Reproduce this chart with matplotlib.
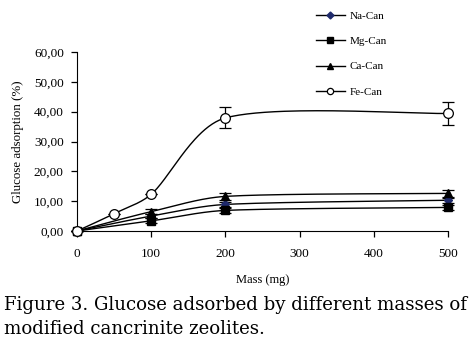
import numpy as np
import matplotlib
matplotlib.use('Agg')
import matplotlib.pyplot as plt
from matplotlib.lines import Line2D
from matplotlib.ticker import FuncFormatter

# data
mass_fe = [0, 50, 100, 200, 500]
fe_can = [0.0, 5.8, 12.3, 37.9, 39.4]
fe_err = [0, 0, 0, 3.5, 4.0]

mass = [0, 100, 200, 500]
na_can = [0.0, 5.0, 8.9, 10.3]
mg_can = [0.0, 3.4, 6.9, 7.9]
ca_can = [0.0, 6.5, 11.6, 12.6]
na_err = [0, 0.8, 0.8, 0.8]
mg_err = [0, 0.8, 0.8, 0.8]
ca_err = [0, 0.8, 1.2, 1.3]

PX_X = 371 / 500.0   # pixels per mg
PX_Y = 179 / 60.0    # pixels per %


def smooth(xs, ys, n=50):
    # excel-like smoothed line, worked out in screen units
    p = np.column_stack([np.array(xs) * PX_X, np.array(ys) * PX_Y]).astype(float)
    p = np.vstack([p[0], p, p[-1]])
    d = np.hypot(*np.diff(p, axis=0).T)
    out = []
    for i in range(1, len(p) - 2):
        p0, p1, p2, p3 = p[i - 1], p[i], p[i + 1], p[i + 2]
        d0, d1, d2 = d[i - 1], d[i], d[i + 1]
        f1 = min(d1 / (d0 + d1) / 3, 1 / 6.) if d0 + d1 > 0 else 0
        f2 = min(d1 / (d1 + d2) / 3, 1 / 6.) if d1 + d2 > 0 else 0
        c1 = p1 + (p2 - p0) * f1
        c2 = p2 - (p3 - p1) * f2
        t = np.linspace(0, 1, n)[:, None]
        seg = (1 - t)**3 * p1 + 3 * (1 - t)**2 * t * c1 + 3 * (1 - t) * t**2 * c2 + t**3 * p2
        out.append(seg)
    out = np.vstack(out)
    return out[:, 0] / PX_X, out[:, 1] / PX_Y


plt.rcParams['font.family'] = 'Liberation Serif'
fig = plt.figure(figsize=(4.75, 3.46), dpi=100)
ax = fig.add_axes([77/475, 1-231/346, (448-77)/475, (231-52)/346])

series = [
    ('Na-Can', mass, na_can, na_err, dict(marker='D', ms=4, mfc='#1f2a6b', mec='#1f2a6b'), 3.5),
    ('Mg-Can', mass, mg_can, mg_err, dict(marker='s', ms=6, mfc='black', mec='black'), 5),
    ('Ca-Can', mass, ca_can, ca_err, dict(marker='^', ms=6, mfc='black', mec='black'), 4.5),
    ('Fe-Can', mass_fe, fe_can, fe_err, dict(marker='o', ms=7, mfc='white', mec='black', mew=0.9), 4.5),
]

handles = []
for name, xs, ys, err, mk, legms in series:
    sx, sy = smooth(xs, ys)
    ax.plot(sx, sy, color='black', lw=1.0, clip_on=False, zorder=2)
    ax.errorbar(xs, ys, yerr=err, fmt='none', ecolor='black', elinewidth=0.9,
                capsize=4, capthick=0.9, clip_on=False, zorder=3)
    ax.plot(xs, ys, ls='none', clip_on=False, zorder=4, **mk)
    lmk = dict(mk)
    lmk['ms'] = legms
    handles.append(Line2D([], [], color='black', lw=1.0, **lmk))

ax.set_xlim(0, 500)
ax.set_ylim(0, 60)
ax.set_xticks([0, 100, 200, 300, 400, 500])
ax.set_yticks(np.arange(0, 61, 10))
ax.yaxis.set_major_formatter(FuncFormatter(lambda v, p: ('%.2f' % v).replace('.', ',')))
for s in ['top', 'right']:
    ax.spines[s].set_visible(False)
ax.tick_params(labelsize=9.5, length=4.5, width=0.9, direction='out')
ax.tick_params(axis='y', pad=5)
ax.tick_params(axis='x', pad=8)
ax.set_xlabel('Mass (mg)', fontsize=9, labelpad=10)
ax.set_ylabel('Glucose adsorption (%)', fontsize=9.3, labelpad=7)

fig.legend(handles, [s[0] for s in series], loc='upper left',
           bbox_to_anchor=(306/475, 1-1/346), frameon=False, fontsize=8,
           handlelength=2.6, handletextpad=0.4, labelspacing=1.4)

fig.text(4/475, 1-310/346, 'Figure 3. Glucose adsorbed by different masses of',
         family='DejaVu Serif', fontsize=13.05, va='baseline')
fig.text(4/475, 1-334/346, 'modified cancrinite zeolites.',
         family='DejaVu Serif', fontsize=13.05, va='baseline')

fig.savefig('out.png', dpi=100)
